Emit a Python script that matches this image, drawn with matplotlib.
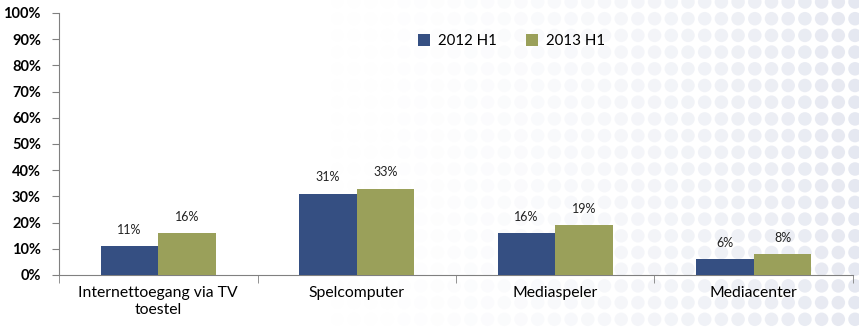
import matplotlib.pyplot as plt
from matplotlib.ticker import FuncFormatter
import numpy as np

categories = ["Internettoegang via TV\ntoestel", "Spelcomputer", "Mediaspeler", "Mediacenter"]
series_names = ["2012 H1", "2013 H1"]
values_2012 = [11, 31, 16, 6]
values_2013 = [16, 33, 19, 8]
colors = ["#354F82", "#9AA05A"]

plt.rcParams['font.family'] = ['Lato', 'DejaVu Sans']

fig = plt.figure(figsize=(8.59, 3.32), dpi=100)

# decorative dot pattern on the right side
bg = fig.add_axes([0, 0, 1, 1], zorder=0)
bg.set_xlim(0, 859)
bg.set_ylim(332, 0)
bg.axis("off")
gx = np.arange(855, 250, -16.7)
gy = np.arange(2, 332, 16.7)
xx, yy = np.meshgrid(gx, gy)
fade = np.clip((xx - 300) / 555, 0, 1) ** 1.8
rgba = np.zeros((xx.size, 4))
rgba[:, 0] = 0.82
rgba[:, 1] = 0.84
rgba[:, 2] = 0.90
rgba[:, 3] = (fade * 0.55).ravel()
bg.scatter(xx.ravel(), yy.ravel(), s=95, c=rgba, edgecolors="none")

ax = fig.add_axes([0.0687, 0.1717, 0.9243, 0.7893], zorder=1)
ax.patch.set_alpha(0)

x = np.arange(len(categories))
w = 0.29
b1 = ax.bar(x - w / 2, values_2012, w, color=colors[0], label=series_names[0], zorder=3)
b2 = ax.bar(x + w / 2, values_2013, w, color=colors[1], label=series_names[1], zorder=3)

for bars, vals in ((b1, values_2012), (b2, values_2013)):
    for rect, v in zip(bars, vals):
        ax.text(rect.get_x() + rect.get_width() / 2, v + 4, f"{v}%",
                ha="center", va="bottom", fontsize=9, color="#222222")

ax.set_xlim(-0.5, len(categories) - 0.5)
ax.set_ylim(0, 100)
ax.set_yticks(np.arange(0, 101, 10))
ax.yaxis.set_major_formatter(FuncFormatter(lambda v, p: f"{int(v)}%"))
ax.tick_params(axis="y", labelsize=10.5, length=5, color="#808080", pad=8)
for lbl in ax.get_yticklabels():
    lbl.set_fontweight("bold")

ax.set_xticks(x)
ax.set_xticklabels(categories, fontsize=11.3, linespacing=1.25)
ax.tick_params(axis="x", length=0, pad=8)
ax.set_xticks(np.arange(-0.5, len(categories), 1), minor=True)
ax.tick_params(axis="x", which="minor", length=6, color="#808080")

for s in ("top", "right"):
    ax.spines[s].set_visible(False)
for s in ("left", "bottom"):
    ax.spines[s].set_color("#808080")

ax.legend(loc="upper center", bbox_to_anchor=(0.57, 0.97), ncol=2, frameon=False,
          fontsize=10.8, handlelength=0.8, handleheight=0.8, columnspacing=2.0,
          handletextpad=0.5)

fig.savefig("out.png", dpi=100)
